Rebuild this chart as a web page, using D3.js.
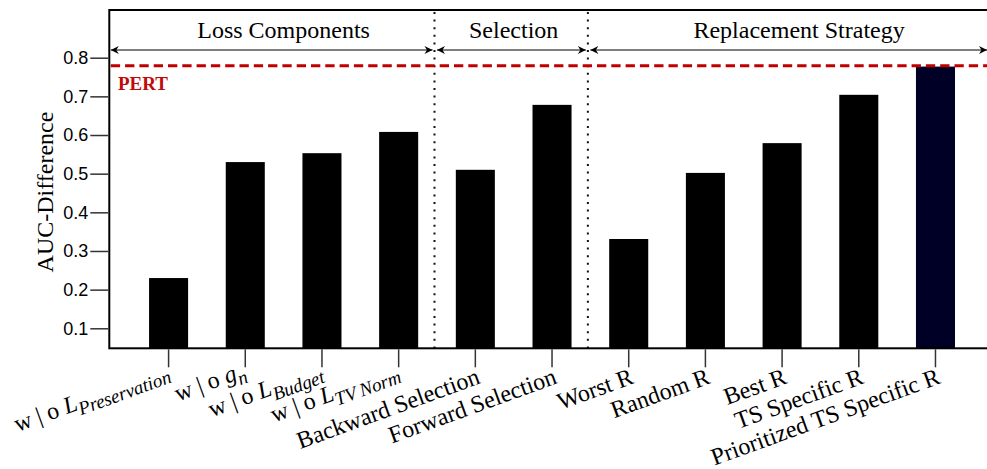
<!DOCTYPE html>
<html>
<head>
<meta charset="utf-8">
<script src="https://cdn.jsdelivr.net/npm/d3@7"></script>
<style>
  html, body { margin: 0; padding: 0; background: #fff; }
  svg { display: block; }
</style>
</head>
<body>
<svg id="chart" width="987" height="469"></svg>
<script>
// Ablation results: AUC-Difference per variant
const categories = [
  "w|o L_{Preservation}",
  "w|o g_{n}",
  "w|o L_{Budget}",
  "w|o L_{TV\u2009Norm}",
  "Backward Selection",
  "Forward Selection",
  "Worst R",
  "Random R",
  "Best R",
  "TS Specific R",
  "Prioritized TS Specific R"
];
const values = [0.23, 0.53, 0.553, 0.608, 0.51, 0.678, 0.331, 0.502, 0.579, 0.704, 0.777];
const highlighted = "Prioritized TS Specific R";
const pertValue = 0.779;
const pertLabel = "PERT";
const yTicks = [0.1, 0.2, 0.3, 0.4, 0.5, 0.6, 0.7, 0.8];
const yTitle = "AUC-Difference";
const groupNames = ["Loss Components", "Selection", "Replacement Strategy"];
const groupFirst = [0, 4, 6];
const groupLast = [3, 5, 10];

(function draw() {
  const svg = d3.select("#chart");
  const plotL = 109.3, plotR = 989, plotT = 10, plotB = 348.3;
  const serif = "'Liberation Serif', 'Times New Roman', Times, serif";
  const sans = "'Liberation Sans', Arial, Helvetica, sans-serif";

  const x = d3.scaleBand()
    .domain(categories)
    .range([plotL, plotR])
    .paddingInner(0.491)
    .paddingOuter(0.481)
    .align(0.539);

  const y = d3.scaleLinear()
    .domain([0.1, 0.8])
    .range([328.3, 57.7]);

  const cx = c => x(c) + x.bandwidth() / 2;
  const cxi = i => cx(categories[i]);

  // bars
  svg.append("g")
    .selectAll("rect")
    .data(categories)
    .join("rect")
    .attr("x", d => x(d))
    .attr("width", x.bandwidth())
    .attr("y", (d, i) => y(values[i]))
    .attr("height", (d, i) => plotB - y(values[i]))
    .attr("fill", d => d === highlighted ? "#000026" : "#000");

  // dotted group dividers
  const dividers = groupLast.slice(0, -1).map(i => (cxi(i) + cxi(i + 1)) / 2 - 2.5);
  svg.append("g")
    .selectAll("line")
    .data(dividers)
    .join("line")
    .attr("x1", d => d).attr("x2", d => d)
    .attr("y1", plotT + 2).attr("y2", plotB)
    .attr("stroke", "#111")
    .attr("stroke-width", 2)
    .attr("stroke-dasharray", "2 5.6");

  // reference line
  svg.append("line")
    .attr("x1", plotL + 1.5).attr("x2", plotR)
    .attr("y1", y(pertValue)).attr("y2", y(pertValue))
    .attr("stroke", "#c00000")
    .attr("stroke-width", 3)
    .attr("stroke-dasharray", "9.3 5");

  svg.append("text")
    .attr("x", 118)
    .attr("y", y(pertValue) + 24.5)
    .attr("font-family", serif)
    .attr("font-weight", "bold")
    .attr("font-size", 19)
    .attr("fill", "#bf0a0a")
    .text(pertLabel);

  // group arrows and headers
  const defs = svg.append("defs");
  defs.append("marker")
    .attr("id", "head")
    .attr("markerUnits", "userSpaceOnUse")
    .attr("viewBox", "-9 -5 10 10")
    .attr("refX", 0).attr("refY", 0)
    .attr("markerWidth", 10).attr("markerHeight", 10)
    .attr("orient", "auto-start-reverse")
    .append("path")
    .attr("d", "M0,0 L-8,-4 L-5.5,0 L-8,4 Z")
    .attr("fill", "#000");

  const arrowY = 50;
  const headerNudge = [0, 0, 17];
  groupNames.forEach((name, i) => {
    const x1 = i === 0 ? plotL + 1.5 : dividers[i - 1] + 2.5;
    const x2 = i === groupNames.length - 1 ? plotR - 2 : dividers[i] - 2;
    svg.append("line")
      .attr("x1", x1).attr("x2", x2)
      .attr("y1", arrowY).attr("y2", arrowY)
      .attr("stroke", "#000")
      .attr("stroke-width", 1.2)
      .attr("marker-start", "url(#head)")
      .attr("marker-end", "url(#head)");
    svg.append("text")
      .attr("x", (cxi(groupFirst[i]) + cxi(groupLast[i])) / 2 + headerNudge[i])
      .attr("y", 37.5)
      .attr("text-anchor", "middle")
      .attr("font-family", serif)
      .attr("font-size", 24)
      .attr("fill", "#000")
      .text(name);
  });

  // frame
  svg.append("rect")
    .attr("x", plotL).attr("y", plotT)
    .attr("width", plotR - plotL).attr("height", plotB - plotT)
    .attr("fill", "none")
    .attr("stroke", "#000")
    .attr("stroke-width", 2);

  // y axis
  const yAxis = svg.append("g")
    .attr("transform", `translate(${plotL - 1},0)`)
    .call(d3.axisLeft(y).tickValues(yTicks).tickSize(18).tickPadding(2).tickFormat(d3.format(".1f")));
  yAxis.select(".domain").remove();
  yAxis.selectAll(".tick line").attr("stroke", "#333").attr("stroke-width", 1.5);
  yAxis.selectAll(".tick text")
    .attr("font-family", sans)
    .attr("font-size", 18)
    .attr("fill", "#000");

  svg.append("text")
    .attr("transform", "translate(53,192) rotate(-90)")
    .attr("text-anchor", "middle")
    .attr("font-family", serif)
    .attr("font-size", 24)
    .attr("fill", "#000")
    .text(yTitle);

  // x axis
  const xAxis = svg.append("g")
    .attr("transform", `translate(0,${plotB + 1})`)
    .call(d3.axisBottom(x).tickSize(18).tickFormat(""));
  xAxis.select(".domain").remove();
  xAxis.selectAll(".tick line").attr("stroke", "#333").attr("stroke-width", 1.5);

  // rotated category labels; "A_{b}" parts are drawn as italic symbol + subscript
  const mathPattern = /^(.*?)([A-Za-z])_\{(.+)\}$/;
  const subShift = 6;
  categories.forEach(c => {
    const m = c.match(mathPattern);
    const tx = cx(c) + (m ? 4 : 6);
    const ty = m ? 382 : 383;
    const t = svg.append("text")
      .attr("transform", `translate(${tx},${ty}) rotate(-20)`)
      .attr("text-anchor", "end")
      .attr("font-family", serif)
      .attr("font-size", 24)
      .attr("fill", "#000");
    if (m) {
      t.attr("y", -subShift);
      t.append("tspan").text(m[1].replace("|", " | "));
      t.append("tspan").attr("font-style", "italic").text(m[2]);
      t.append("tspan")
        .attr("font-style", "italic")
        .attr("font-size", 19)
        .attr("dy", subShift)
        .text(m[3]);
    } else {
      t.text(c);
    }
  });
})();
</script>
</body>
</html>
